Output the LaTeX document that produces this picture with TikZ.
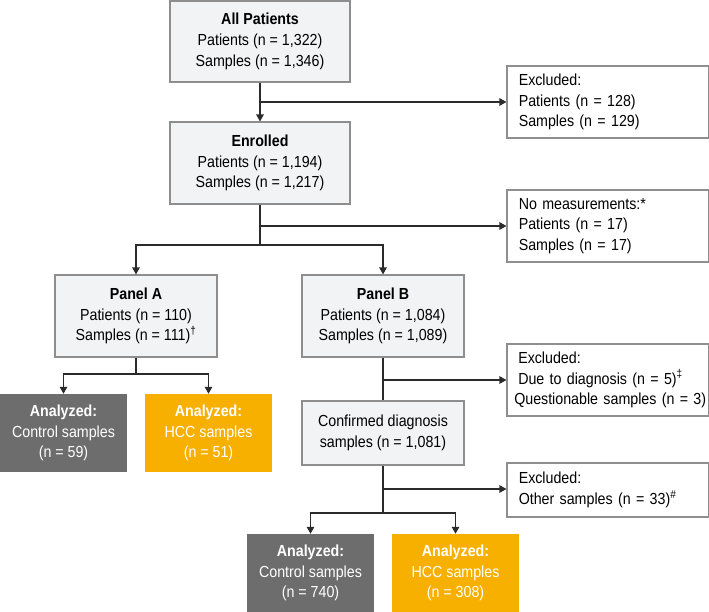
\documentclass[tikz,border=0pt]{standalone}
\usepackage{fontspec}
\setmainfont[FakeStretch=0.89]{Liberation Sans}
\usetikzlibrary{arrows.meta}
\definecolor{boxfill}{HTML}{F2F3F5}
\definecolor{boxline}{HTML}{8E8E8E}
\definecolor{ctrlgray}{HTML}{6D6D6E}
\definecolor{hccorange}{HTML}{F7B000}
\definecolor{linedark}{HTML}{2B2B2B}
\newcommand\flowfont{\fontsize{16}{20.7}\selectfont\spaceskip=3.96pt plus 1pt minus 1pt\relax}
\tikzset{
  mainbox/.style={rectangle,draw=boxline,line width=1.1pt,fill=boxfill,align=center,inner sep=0pt,text=black},
  exclbox/.style={rectangle,draw=boxline,line width=1.1pt,fill=white,align=left,minimum width=201.5pt,text width=178pt,inner xsep=11.75pt,inner ysep=0pt,text=black},
  ctrlbox/.style={rectangle,fill=ctrlgray,align=center,minimum width=127pt,minimum height=78pt,inner sep=0pt,text=white},
  hccbox/.style={rectangle,fill=hccorange,align=center,minimum width=127pt,minimum height=78pt,inner sep=0pt,text=white},
  arr/.style={draw=linedark,line width=1.3pt,-{Triangle[length=7pt,width=7.5pt]}},
  conn/.style={draw=linedark,line width=1.3pt}
}
\begin{document}
\begin{tikzpicture}[x=1pt,y=-1pt,font=\flowfont]
\useasboundingbox (0,0) rectangle (709,612);

% main column
\node (allpat)[mainbox,minimum width=180pt,minimum height=81pt] at (260,41.5){
  \textbf{All Patients}\\
  Patients (n = 1,322)\\
  Samples (n = 1,346)
};
\node (enrolled)[mainbox,minimum width=180pt,minimum height=82pt] at (260,163){
  \textbf{Enrolled}\\
  Patients (n = 1,194)\\
  Samples (n = 1,217)
};
\node (panelA)[mainbox,minimum width=162pt,minimum height=82pt] at (136,316){
  \textbf{Panel A}\\
  Patients (n = 110)\\
  Samples (n = 111)\textsuperscript{\dag}
};
\node (panelB)[mainbox,minimum width=162pt,minimum height=82pt] at (383,316){
  \textbf{Panel B}\\
  Patients (n = 1,084)\\
  Samples (n = 1,089)
};
\node (confirmed)[mainbox,minimum width=162pt,minimum height=64pt] at (383,433){
  Confirmed diagnosis\\
  samples (n = 1,081)
};

% excluded boxes
\node (exclA)[exclbox,minimum height=72pt] at (607.75,102){
  Excluded:\\
  Patients (n = 128)\\
  Samples (n = 129)
};
\node (nomeas)[exclbox,minimum height=72pt] at (607.75,226){
  No measurements:*\\
  Patients (n = 17)\\
  Samples (n = 17)
};
\node (exclB)[exclbox,minimum height=72pt,text width=197pt,inner xsep=2.25pt] at (607.75,380){
  \hspace*{9pt}Excluded:\\
  \hspace*{9pt}Due to diagnosis (n = 5)\textsuperscript{\ddag}\\
  \hspace*{5pt}Questionable samples (n = 3)
};
\node (exclC)[exclbox,minimum height=54pt] at (607.75,490){
  Excluded:\\
  Other samples (n = 33)\textsuperscript{\#}
};

% analyzed boxes
\node (ctrlA)[ctrlbox] at (63.5,433){\textbf{Analyzed:}\\ Control samples\\ (n = 59)};
\node (hccA)[hccbox] at (208.5,433){\textbf{Analyzed:}\\ HCC samples\\ (n = 51)};
\node (ctrlB)[ctrlbox] at (310.5,573){\textbf{Analyzed:}\\ Control samples\\ (n = 740)};
\node (hccB)[hccbox] at (455.5,573){\textbf{Analyzed:}\\ HCC samples\\ (n = 308)};

% junctions
\coordinate (jA) at (260,102);
\coordinate (jB) at (260,226);
\coordinate (jC) at (260,245);
\coordinate (jD) at (136,374);
\coordinate (jE) at (383,380);
\coordinate (jF) at (383,489);
\coordinate (jG) at (383,513);

% connectors
\draw[arr] (allpat) -- (enrolled);
\draw[arr] (jA) -- (exclA.west);
\draw[conn] (enrolled.south) -- (jC);
\draw[arr] (jB) -- (nomeas.west);
\draw[arr] (jC) -| (panelA.north);
\draw[arr] (jC) -| (panelB.north);
\draw[conn] (panelA.south) -- (jD);
\draw[arr] (jD) -| (ctrlA.north);
\draw[arr] (jD) -| (hccA.north);
\draw[conn] (panelB) -- (confirmed);
\draw[arr] (jE) -- (exclB.west);
\draw[conn] (confirmed.south) -- (jG);
\draw[arr] (jF) -- (exclC.west |- jF);
\draw[arr] (jG) -| (ctrlB.north);
\draw[arr] (jG) -| (hccB.north);
\end{tikzpicture}
\end{document}
